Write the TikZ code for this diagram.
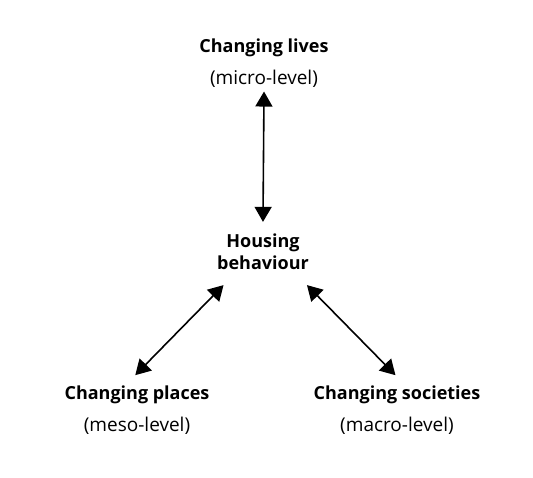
\documentclass[tikz,border=0pt]{standalone}
\usepackage{fontspec}
\setmainfont{Open Sans}
\usetikzlibrary{arrows.meta, positioning}

\tikzset{
    level label/.style={align=center, inner sep=6pt, font=\fontsize{18}{22}\selectfont},
    two way/.style={{Triangle[length=15pt,width=17pt]}-{Triangle[length=15pt,width=17pt]}, line width=1.6pt}
}
\newcommand{\lvl}[1]{{\fontsize{19}{22}\selectfont #1}}

\begin{document}
\begin{tikzpicture}

    % Frame
    \useasboundingbox (0pt,0pt) rectangle (533pt,477pt);

    % Levels
    \node[level label] (lives) at (264pt, 414pt) {\textbf{Changing lives}\\[10pt]\lvl{(micro-level)}};
    \node[level label] (places) at (137pt, 67pt) {\textbf{Changing places}\\[10pt]\lvl{(meso-level)}};
    \node[level label] (societies) at (397pt, 67pt) {\textbf{Changing societies}\\[10pt]\lvl{(macro-level)}};

    % Centre
    \node[level label, inner sep=15pt] (housing) at (263pt, 225pt) {\textbf{Housing}\\\textbf{behaviour}};

    % Arrows
    \draw[two way, shorten <=-2pt, shorten >=-3pt] (lives.south) -- (housing.north);
    \draw[two way, shorten >=6pt] (housing.220) -- (places.101);
    \draw[two way, shorten >=6pt] (housing.323) -- (societies.85);

\end{tikzpicture}
\end{document}
